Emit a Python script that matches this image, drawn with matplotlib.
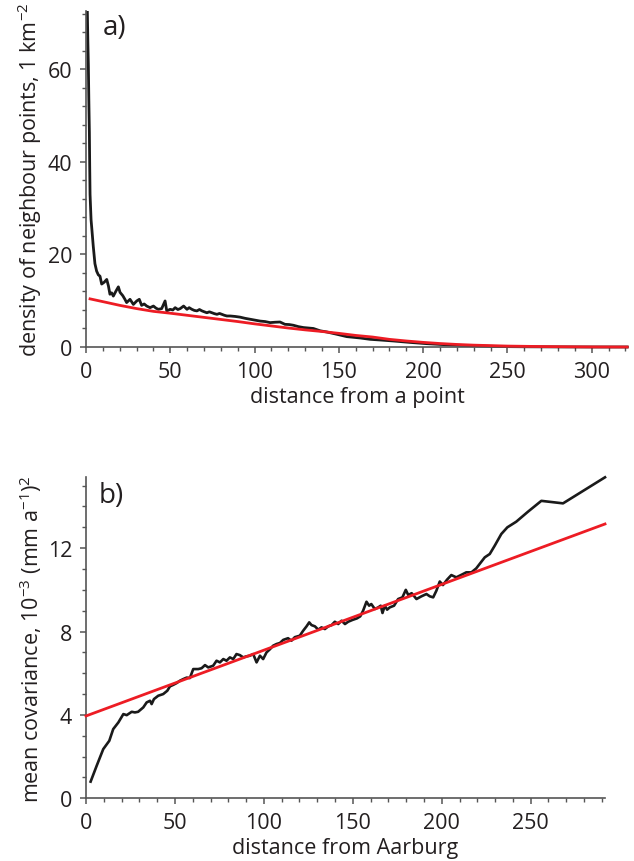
import matplotlib
matplotlib.use("Agg")
import matplotlib.pyplot as plt
from matplotlib.ticker import MultipleLocator

plt.rcParams['font.family'] = ['Open Sans', 'DejaVu Sans']
plt.rcParams['mathtext.fontset'] = 'custom'
plt.rcParams['mathtext.rm'] = 'Open Sans'
plt.rcParams['mathtext.default'] = 'regular'

# ---- panel a data ----
a_dist = [0.8, 1.1, 1.4, 1.7, 2.0, 2.2, 2.4, 3.0, 3.4, 4.3, 5.3, 6.3, 7.3, 8.3, 9.3,
          10.8, 12.3, 13.3, 14.2, 15.2, 16.2, 17.8, 19.2, 20.2, 21.8, 23.1, 24.1,
          26.1, 27.2, 28.1, 30.1, 31.6, 33.0, 34.5, 36.0, 38.0, 40.0, 41.5, 42.9,
          44.9, 46.9, 47.9, 49.9, 51.5, 52.9, 54.5, 55.9, 57.9, 59.9, 61.2, 62.8,
          64.3, 65.8, 67.3, 68.8, 70.2, 71.7, 73.2, 74.7, 76.2, 77.7, 79.2, 80.6,
          82.1, 83.6, 85.6, 88.5, 91.4, 94.3, 97.3, 100.3, 103.3, 106.2, 109.2,
          112.1, 115.1, 118.0, 120.5, 123.0, 126.0, 129.0, 132.0, 134.9, 138.9,
          142.8, 148.8, 154.7, 162.6, 168.5, 175.0, 182.4, 192.0, 202.2, 212.0,
          222.0, 232.0, 241.7, 250.0, 260.0, 280.0, 300.0, 321.0]
a_density = [72.3, 66.0, 60.8, 53.0, 46.4, 39.0, 33.0, 27.5, 25.8, 21.8, 18.0, 16.4,
             15.6, 15.3, 13.6, 14.0, 14.6, 13.2, 11.4, 11.7, 11.0, 12.1, 13.0, 11.8,
             11.1, 10.3, 9.6, 10.3, 9.7, 9.2, 9.95, 10.3, 9.0, 9.3, 8.85, 8.5, 8.85,
             8.4, 8.14, 8.3, 9.95, 7.8, 8.14, 8.0, 8.5, 8.1, 8.3, 8.85, 8.14, 8.5,
             8.14, 7.9, 7.8, 8.1, 7.8, 7.6, 7.4, 7.6, 7.4, 7.2, 7.06, 7.25, 7.06,
             6.85, 6.7, 6.7, 6.6, 6.45, 6.2, 6.0, 5.8, 5.6, 5.5, 5.27, 5.35, 5.4,
             4.9, 4.85, 4.7, 4.4, 4.2, 4.1, 4.0, 3.5, 3.25, 2.75, 2.24, 1.95, 1.66,
             1.5, 1.3, 1.0, 0.72, 0.52, 0.36, 0.24, 0.14, 0.08, 0.05, 0.02, 0.0, 0.0]

a_fit_dist = [2.4, 10, 20, 30, 40, 50, 60, 70, 80, 90, 100, 110, 120, 130, 140, 150,
              160, 170, 180, 190, 200, 210, 220, 230, 240, 250, 260, 270, 280, 290,
              300, 310, 321]
a_fit = [10.4, 9.8, 9.0, 8.3, 7.7, 7.3, 6.85, 6.4, 5.95, 5.5, 5.0, 4.55, 4.1, 3.7,
         3.35, 2.95, 2.5, 2.15, 1.65, 1.3, 1.0, 0.75, 0.55, 0.4, 0.3, 0.2, 0.15, 0.1,
         0.07, 0.04, 0.02, 0.01, 0.0]

# ---- panel b data ----
b_dist = [2.6, 6.0, 9.7, 13.1, 15.3, 18.2, 21.0, 22.9, 25.7, 27.5, 29.3, 32.2, 34.1,
          36.0, 36.9, 38.2, 40.6, 43.4, 45.7, 47.2, 49.0, 51.0, 52.8, 54.7, 56.6,
          58.4, 60.3, 63.1, 65.0, 66.9, 68.7, 71.5, 73.4, 75.3, 77.2, 79.0, 80.9,
          82.8, 84.6, 86.5, 88.4, 90.2, 92.1, 94.0, 95.9, 97.8, 99.6, 101.5, 103.4,
          105.2, 107.1, 109.0, 110.9, 113.6, 115.5, 117.4, 120.2, 122.1, 124.0,
          125.5, 126.8, 128.7, 130.6, 132.4, 134.3, 136.2, 138.1, 139.9, 141.8,
          143.7, 145.6, 147.4, 149.9, 152.3, 154.2, 155.8, 157.7, 159.2, 160.4,
          162.4, 164.3, 165.7, 166.7, 168.0, 169.3, 170.8, 173.2, 175.5, 177.9,
          179.8, 181.2, 183.1, 185.8, 188.6, 191.4, 193.3, 195.2, 197.0, 198.9,
          200.7, 203.0, 205.4, 208.2, 210.8, 213.8, 216.7, 219.4, 221.3, 224.2,
          227.0, 229.8, 233.5, 236.9, 241.9, 248.5, 256.0, 268.2, 291.8]
b_cov = [0.80, 1.56, 2.36, 2.76, 3.32, 3.64, 4.04, 3.99, 4.15, 4.12, 4.15, 4.36, 4.60,
         4.68, 4.52, 4.76, 4.92, 5.00, 5.16, 5.37, 5.44, 5.53, 5.64, 5.72, 5.79, 5.77,
         6.20, 6.20, 6.24, 6.39, 6.28, 6.36, 6.60, 6.52, 6.68, 6.60, 6.76, 6.68, 6.92,
         6.87, 6.76, 6.81, 6.84, 6.92, 6.52, 6.84, 6.68, 7.00, 7.15, 7.32, 7.40, 7.45,
         7.60, 7.68, 7.56, 7.73, 7.80, 8.04, 8.25, 8.44, 8.31, 8.25, 8.09, 8.20, 8.12,
         8.25, 8.31, 8.47, 8.36, 8.52, 8.36, 8.47, 8.56, 8.63, 8.73, 9.00, 9.43, 9.24,
         9.32, 9.08, 9.16, 9.24, 8.89, 9.24, 9.05, 9.16, 9.24, 9.56, 9.64, 10.00,
         9.75, 9.84, 9.56, 9.69, 9.80, 9.69, 9.64, 9.96, 10.40, 10.23, 10.49, 10.71,
         10.60, 10.71, 10.84, 10.84, 11.03, 11.24, 11.56, 11.72, 12.12, 12.68, 13.00,
         13.27, 13.75, 14.27, 14.15, 15.40]

b_fit_dist = [0.0, 291.8]
b_fit = [3.95, 13.16]

BLACK = '#1a1a1a'
RED = '#ed1c24'
SPINE = '#555555'
TXT = '#231f20'
FS = 15.5

fig = plt.figure(figsize=(6.34, 8.62), dpi=100)

def style(ax):
    for s in ('top', 'right'):
        ax.spines[s].set_visible(False)
    for s in ('left', 'bottom'):
        ax.spines[s].set_color(SPINE)
        ax.spines[s].set_linewidth(1.2)
    ax.tick_params(which='major', direction='out', length=4.5, width=1.1,
                   color=SPINE, labelsize=FS, labelcolor=TXT, pad=5.5)
    ax.tick_params(which='minor', direction='out', length=3, width=1.0, color=SPINE)

ax1 = fig.add_axes([86/634, 1-348/862, (628-86)/634, (348-12)/862])
ax1.plot(a_fit_dist, a_fit, color=RED, lw=2.0, zorder=3)
ax1.plot(a_dist, a_density, color=BLACK, lw=2.0, zorder=2)
ax1.set_xlim(0, 321.5)
ax1.set_ylim(0, 72.6)
ax1.xaxis.set_major_locator(MultipleLocator(50))
ax1.xaxis.set_minor_locator(MultipleLocator(10))
ax1.yaxis.set_major_locator(MultipleLocator(20))
ax1.yaxis.set_minor_locator(MultipleLocator(4))
style(ax1)
ax1.set_xlabel('distance from a point', fontsize=FS, color=TXT, labelpad=3)
ax1.set_ylabel('density of neighbour points, 1 km$^{\u22122}$', fontsize=FS, color=TXT, labelpad=2.5)
ax1.text(0.03, 0.995, 'a)', transform=ax1.transAxes, fontsize=20, color=TXT, va='top', ha='left')

ax2 = fig.add_axes([86/634, 1-799.3/862, (605-86)/634, (799.3-478.3)/862])
ax2.plot(b_fit_dist, b_fit, color=RED, lw=2.0, zorder=3)
ax2.plot(b_dist, b_cov, color=BLACK, lw=1.9, zorder=2)
ax2.set_xlim(0, 291.8)
ax2.set_ylim(0, 15.4)
ax2.xaxis.set_major_locator(MultipleLocator(50))
ax2.xaxis.set_minor_locator(MultipleLocator(10))
ax2.yaxis.set_major_locator(MultipleLocator(4))
ax2.yaxis.set_minor_locator(MultipleLocator(1))
style(ax2)
ax2.set_xlabel('distance from Aarburg', fontsize=FS, color=TXT, labelpad=3)
ax2.set_ylabel('mean covariance, 10$^{\u22123}$ (mm a$^{\u22121}$)$^{2}$', fontsize=FS, color=TXT, labelpad=2.5)
ax2.text(0.025, 0.99, 'b)', transform=ax2.transAxes, fontsize=20, color=TXT, va='top', ha='left')
for ax in (ax1, ax2):
    for l in ax.lines:
        l.set_clip_on(False)

fig.savefig('out.png', dpi=100)
